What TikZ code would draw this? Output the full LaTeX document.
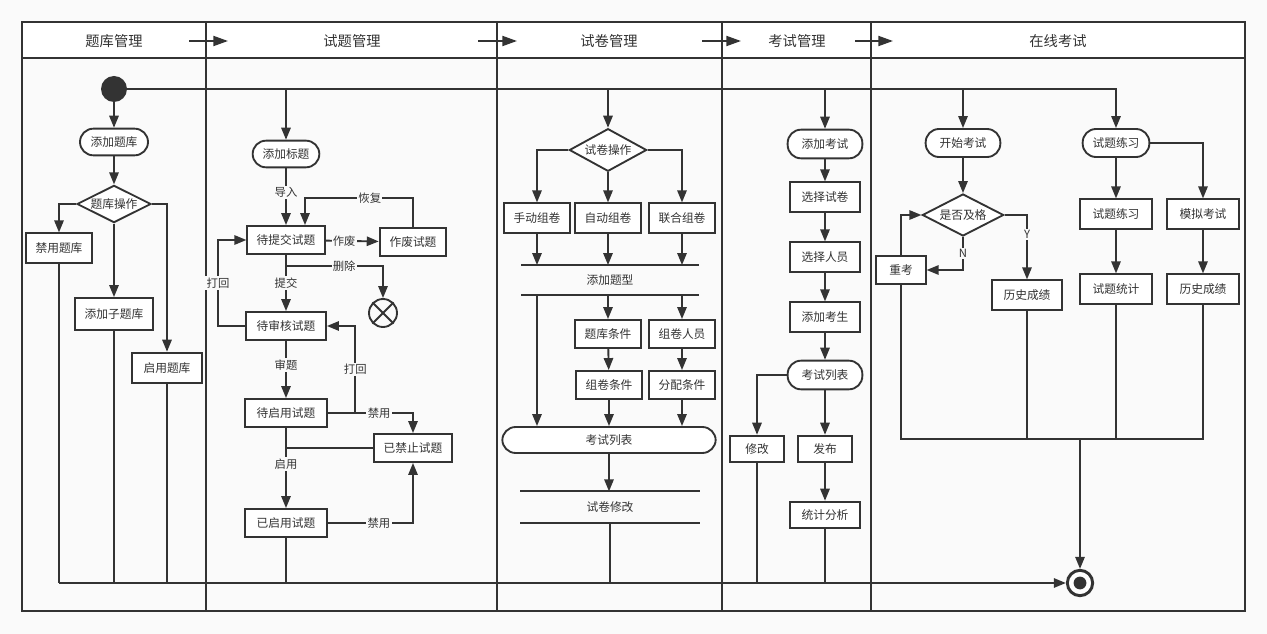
\documentclass[tikz,border=0pt]{standalone}
\usepackage{fontspec}
\newfontfamily\cjk{Noto Sans CJK SC}
\usepackage{tikz}
\usetikzlibrary{shapes.geometric}
\usetikzlibrary{arrows.meta}
\definecolor{lc}{HTML}{333333}
\definecolor{bgc}{HTML}{FAFAFA}
\tikzset{line/.style={draw=lc, line width=1.4pt},
box/.style={line, fill=white, minimum width=50pt, minimum height=22pt, inner sep=1pt, text=lc, font=\cjk\fontsize{8.8}{10}\selectfont},
%rounded start/stop boxes
term/.style={box, rounded corners=10pt},
dec/.style={box, diamond, aspect=2, inner sep=0pt, minimum width=55.5pt, minimum height=28pt},
bar/.style={inner sep=0pt, text=lc, font=\cjk\fontsize{8.8}{10}\selectfont},
head/.style={text=lc, font=\cjk\fontsize{10.7}{12}\selectfont},
lbl/.style={fill=bgc, inner sep=1pt, text=lc, font=\cjk\fontsize{8.5}{10}\selectfont},
arr/.style={line, -{Triangle[length=9pt,width=7pt]}},
harr/.style={line, -{Triangle[length=11pt,width=7.5pt]}}}

\begin{document}
\begin{tikzpicture}[x=0.75pt,y=-0.75pt]
\fill[bgc] (0,0) rectangle (1267,634);
\useasboundingbox (0,0) rectangle (1267,634);
% lanes
\draw[line, fill=white] (22,22) rectangle (1245,58);
\draw[line] (22,22) rectangle (1245,611);
\foreach \x in {206,497,722,871}
     \draw[line] (\x,22) -- (\x,611);
\foreach \x/\t in {114/题库管理, 352/试题管理, 609/试卷管理, 797/考试管理, 1058/在线考试}
     \node[head] (h\x) at (\x,41) {\t};
\foreach \a/\b in {189/228, 478/517, 702/741, 855/893}
     \draw[harr] (\a,41) -- (\b,41);

% 题库管理
\node[circle, fill=lc, minimum size=19.5pt, inner sep=0pt] (start) at (114,89) {};
\node[term, minimum width=51pt, minimum height=20pt] (addK) at (114,142) {添加题库};
\node[dec] (opK) at (114,204) {题库操作};
\node[box] (banK) at (59,248) {禁用题库};
\node[box, minimum width=58pt, minimum height=24pt] (subK) at (114,314) {添加子题库};
\node[box, minimum width=52pt, minimum height=23pt] (onK) at (167,368) {启用题库};
\draw[arr] (start) -- (addK);
\draw[arr] (addK) -- (opK);
\draw[arr] (opK.west) -| (banK);
\draw[arr] (opK) -- (subK);
\draw[arr] (opK.east) -| (onK);

% 试题管理
\node[term, minimum width=50pt, minimum height=20pt] (addT) at (286,154) {添加标题};
\node[box, minimum width=58pt, minimum height=21pt] (wait) at (286,240) {待提交试题};
\node[box, minimum width=50pt, minimum height=21pt] (scrap) at (413,242) {作废试题};
\node[circle, line, minimum size=21pt, inner sep=0pt] (del) at (383,313) {};
\draw[line] (del.north west) -- (del.south east);
\draw[line] (del.north east) -- (del.south west);
\node[box, minimum width=60pt, minimum height=21pt] (rev) at (286,326) {待审核试题};
\node[box, minimum width=62pt, minimum height=21pt] (ena) at (286,413) {待启用试题};
\node[box, minimum width=58pt, minimum height=21pt] (ban) at (413,448) {已禁止试题};
\node[box, minimum width=61pt, minimum height=21pt] (act) at (286,523) {已启用试题};
\draw[arr] (start.east) -| (addT);
\draw[arr] (addT) -- (wait) node[lbl, pos=0.42] {导入};
\draw[arr] (wait) -- (scrap) node[lbl, pos=0.35] {作废};
\draw[arr] (scrap.north) -- ++(0,-29) -| ([xshift=14.25pt]wait.north) node[lbl, pos=0.2] {恢复};
\draw[arr] ([yshift=-8.25pt]wait.south) -| (del) node[lbl, pos=0.3] {删除};
\draw[arr] (wait) -- (rev) node[lbl, midway] {提交};
\draw[arr] (rev.west) -- ++(-27,0) |- (wait.west) node[lbl, pos=0.25] {打回};
\draw[arr] (rev) -- (ena) node[lbl, pos=0.42] {审题};
\draw[arr] (ena.east) -- ++(27,0) |- (rev.east) node[lbl, pos=0.25] {打回};
\draw[arr] (ena.east) -| (ban) node[lbl, pos=0.3] {禁用};
\draw[line] (ban.west) -- (ban.west -| ena.south);
\draw[arr] (ena) -- (act) node[lbl, pos=0.45] {启用};
\draw[arr] (act.east) -| (ban) node[lbl, pos=0.3] {禁用};

% 试卷管理
\node[dec, minimum width=58pt, minimum height=32pt] (opP) at (608,150) {试卷操作};
\foreach \n/\x/\t in {p1/537/手动组卷, p2/608/自动组卷, p3/682/联合组卷}
     \node[box] (\n) at (\x,218) {\t};
\node[bar, minimum width=133pt, minimum height=22pt] (typ) at (610,280) {添加题型};
\node[box, minimum height=21pt] (c1) at (608,334) {题库条件};
\node[box, minimum height=21pt] (c2) at (609,385) {组卷条件};
\node[box, minimum height=21pt] (c3) at (682,334) {组卷人员};
\node[box, minimum height=21pt] (c4) at (682,385) {分配条件};
\node[term, minimum width=160pt, minimum height=19.5pt] (listP) at (609,440) {考试列表};
\node[bar, minimum width=134pt, minimum height=23pt] (modP) at (610,507) {试卷修改};
\foreach \n in {typ,modP} {
     \draw[line] (\n.north west) -- (\n.north east);
     \draw[line] (\n.south west) -- (\n.south east);
}
\draw[arr] (start.east) -| (opP);
\draw[arr] (opP.west) -| (p1);
\draw[arr] (opP) -- (p2);
\draw[arr] (opP.east) -| (p3);
\foreach \n in {p1,p2,p3}
     \draw[arr] (\n) -- (\n |- typ.north);
\draw[arr] (typ.south -| p1) -- (p1 |- listP.north);
\draw[arr] (typ.south -| c1) -- (c1);
\draw[arr] (typ.south -| c3) -- (c3);
\draw[arr] (c1) -- (c2);
\draw[arr] (c3) -- (c4);
\draw[arr] (c2) -- (c2 |- listP.north);
\draw[arr] (c4) -- (c4 |- listP.north);
\draw[arr] (listP) -- (listP |- modP.north);

% 考试管理
\node[term, minimum width=56pt, minimum height=21.5pt] (addE) at (825,144) {添加考试};
\node[box, minimum width=52pt] (selP) at (825,197) {选择试卷};
\node[box, minimum width=52pt] (selU) at (825,257) {选择人员};
\node[box, minimum width=52pt] (addS) at (825,317) {添加考生};
\node[term, minimum width=56pt, minimum height=21.5pt] (listE) at (825,375) {考试列表};
\node[box, minimum width=41pt, minimum height=20pt] (edit) at (757,449) {修改};
\node[box, minimum width=41pt, minimum height=20pt] (pub) at (825,449) {发布};
\node[box, minimum width=52pt, minimum height=20pt] (stat) at (825,515) {统计分析};
\draw[arr] (start.east) -| (addE);
\draw[arr] (addE) -- (selP);
\draw[arr] (selP) -- (selU);
\draw[arr] (selU) -- (addS);
\draw[arr] (addS) -- (listE);
\draw[arr] (listE.west) -| (edit);
\draw[arr] (listE) -- (pub);
\draw[arr] (pub) -- (stat);

% 在线考试
\node[term, minimum width=56pt, minimum height=21pt] (begin) at (963,143) {开始考试};
\node[dec, minimum width=61pt, minimum height=31.5pt] (pass) at (963,215) {是否及格};
\node[box, minimum width=37pt, minimum height=21pt] (retry) at (901,270) {重考};
\node[box, minimum width=53pt] (hist1) at (1027,295) {历史成绩};
\node[term, minimum width=50pt, minimum height=21pt] (prac) at (1116,143) {试题练习};
\node[box, minimum width=54pt] (pbox) at (1116,214) {试题练习};
\node[box, minimum width=54pt] (mock) at (1203,214) {模拟考试};
\node[box, minimum width=54pt] (stat2) at (1116,289) {试题统计};
\node[box, minimum width=54pt] (hist2) at (1203,289) {历史成绩};
\draw[arr] (start.east) -| (begin);
\draw[arr] (start.east) -| (prac);
\draw[arr] (begin) -- (pass);
\draw[arr] (pass.south) |- (retry.east) node[lbl, pos=0.25] {N};
\draw[arr] (retry.north) |- (pass.west);
\draw[arr] (pass.east) -| (hist1) node[lbl, pos=0.65] {Y};
\draw[arr] (prac) -- (pbox);
\draw[arr] (prac.east) -| (mock);
\draw[arr] (pbox) -- (stat2);
\draw[arr] (mock) -- (hist2);

% end
\node[circle, line, line width=2.2pt, fill=white, minimum size=19pt, inner sep=0pt] (endc) at (1080,583) {};
\fill[lc] (endc) circle (4.8pt);
\coordinate (j1) at (59,583);
\coordinate (j2) at (1080,439);
\foreach \n in {retry,hist1,stat2,hist2}
     \draw[line] (\n.south) |- (j2);
\draw[arr] (j2) -- (endc);
\foreach \n in {banK,subK,onK,act,modP,edit,stat}
     \draw[line] (\n.south) |- (j1);
\draw[arr] (j1) -- (endc);
\end{tikzpicture}
\end{document}
